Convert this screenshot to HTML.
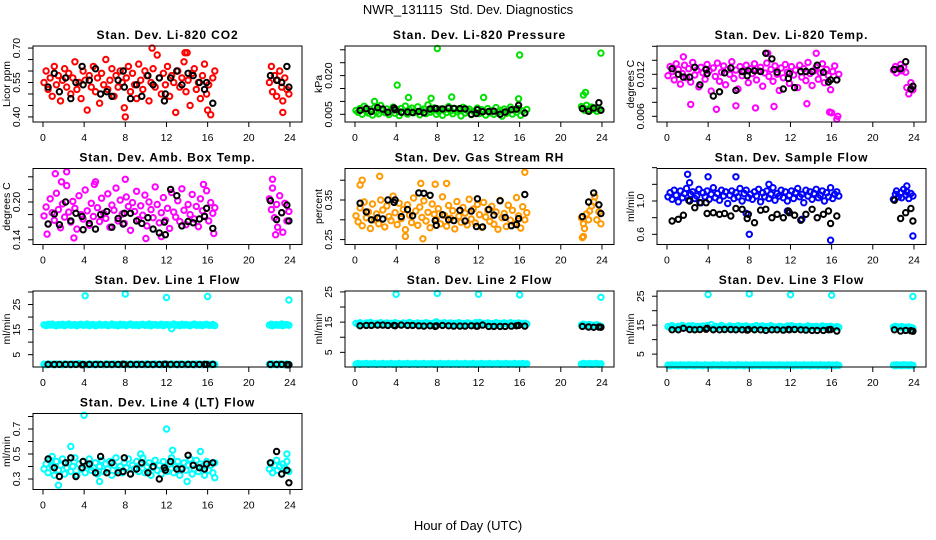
<!DOCTYPE html>
<html><head><meta charset="utf-8"><title>NWR_131115 Std. Dev. Diagnostics</title>
<style>
html,body{margin:0;padding:0;background:#fff;}
svg{display:block;font-family:"Liberation Sans",Arial,sans-serif;}
</style></head>
<body>
<svg id="chart" width="936" height="540" viewBox="0 0 936 540" xmlns="http://www.w3.org/2000/svg">
<rect x="0" y="0" width="936" height="540" fill="#fff"/>
<text x="468" y="14" font-size="13" text-anchor="middle" xml:space="preserve">NWR_131115  Std. Dev. Diagnostics</text>
<text x="468" y="530" font-size="13" text-anchor="middle">Hour of Day (UTC)</text>
</svg>
<script>
// ---- shared data ----
const hours = [0.1,0.3,0.5,0.7,0.9,1.1,1.3,1.5,1.7,1.9,2.1,2.3,2.5,2.7,2.9,3.1,3.3,3.5,3.7,3.9,4.1,4.3,4.5,4.7,4.9,5.1,5.3,5.5,5.7,5.9,
6.1,6.3,6.5,6.7,6.9,7.1,7.3,7.5,7.7,7.9,8.1,8.3,8.5,8.7,8.9,9.1,9.3,9.5,9.7,9.9,10.1,10.3,10.5,10.7,10.9,11.1,11.3,11.5,11.7,11.9,
12.1,12.3,12.5,12.7,12.9,13.1,13.3,13.5,13.7,13.9,14.1,14.3,14.5,14.7,14.9,15.1,15.3,15.5,15.7,15.9,16.1,16.3,16.5,16.7,
22.0,22.2,22.3,22.5,22.7,22.8,23.0,23.2,23.3,23.5,23.7,23.9];
const blackHours = [0.5,1.1,1.6,2.2,2.7,3.2,3.8,3.9,4.5,5.1,5.6,6.2,6.7,7.3,7.8,7.9,8.5,9.1,9.6,10.2,10.7,11.3,11.8,11.9,12.4,13.0,13.5,14.1,14.6,15.2,15.7,15.9,16.5,22.1,22.7,23.2,23.7,23.9];
const xTicks = [0,4,8,12,16,20,24];

// ---- CO2 ----
const co2Vals = [.55,.60,.52,.57,.49,.62,.54,.58,.47,.56,.61,.53,.59,.50,.57,.64,.52,.55,.48,.60,.56,.43,.58,.53,.62,.51,.57,.46,.59,.54,
.65,.52,.56,.61,.49,.58,.53,.60,.55,.44,.57,.62,.51,.59,.54,.48,.63,.56,.52,.60,.58,.47,.55,.61,.53,.67,.57,.50,.59,.54,
.62,.49,.58,.55,.42,.60,.53,.57,.64,.51,.56,.45,.59,.61,.52,.55,.48,.58,.63,.50,.54,.41,.57,.60,
.55,.62,.51,.58,.49,.56,.60,.53,.47,.57,.52,.50];
const co2OutX = [10.6,8.0,13.8,16.0,23.3,14.0];
const co2OutY = [.70,.40,.68,.43,.42,.68];
const co2Black = [.53,.59,.51,.57,.48,.55,.62,.54,.56,.61,.50,.51,.49,.56,.60,.53,.48,.54,.49,.58,.54,.57,.47,.50,.57,.60,.54,.59,.58,.55,.52,.55,.46,.58,.56,.55,.62,.53];

// ---- Pressure ----
const presVals = [.0065,.0058,.0072,.0050,.0081,.0062,.0055,.0069,.0047,.0076,.0060,.0052,.0084,.0066,.0057,.0071,.0049,.0063,.0078,.0054,.0068,.0045,.0073,.0059,.0082,.0051,.0067,.0074,.0056,.0061,
.0079,.0048,.0064,.0070,.0053,.0087,.0058,.0066,.0075,.0050,.0062,.0071,.0046,.0069,.0057,.0080,.0063,.0052,.0073,.0060,.0067,.0044,.0077,.0055,.0065,.0070,.0049,.0062,.0058,.0074,
.0053,.0068,.0061,.0047,.0072,.0056,.0064,.0050,.0076,.0059,.0066,.0043,.0070,.0054,.0062,.0078,.0051,.0067,.0058,.0073,.0046,.0063,.0055,.0069,
.0080,.0074,.0066,.0085,.0071,.0063,.0078,.0069,.0075,.0062,.0072,.0067];
const presOutX = [8.0,16.0,23.9,4.1,22.2,22.4,5.2,9.4,12.5,7.4,1.9,15.9];
const presOutY = [.0305,.0280,.0287,.0163,.0125,.0135,.0115,.0117,.0115,.0112,.0100,.0110];
const presBlack = [.0065,.0072,.0061,.0076,.0070,.0058,.0075,.0068,.0058,.0059,.0057,.0061,.0056,.0071,.0073,.0072,.0071,.0074,.0073,.0072,.0071,.0050,.0053,.0068,.0060,.0061,.0062,.0050,.0059,.0068,.0070,.0085,.0055,.0072,.0062,.0074,.0095,.0066];

// ---- Li-820 Temp ----
const tempVals = [.0118,.0131,.0124,.0112,.0135,.0127,.0106,.0121,.0133,.0115,.0128,.0109,.0137,.0119,.0126,.0102,.0130,.0122,.0113,.0134,.0125,.0096,.0129,.0117,.0136,.0110,.0123,.0132,.0105,.0127,
.0120,.0138,.0114,.0126,.0099,.0131,.0118,.0124,.0133,.0108,.0128,.0121,.0135,.0112,.0125,.0130,.0103,.0122,.0136,.0117,.0127,.0110,.0132,.0120,.0097,.0129,.0115,.0134,.0123,.0107,
.0131,.0119,.0126,.0101,.0133,.0116,.0128,.0111,.0137,.0121,.0104,.0125,.0130,.0113,.0122,.0135,.0108,.0127,.0118,.0098,.0124,.0132,.0112,.0120,
.0126,.0131,.0122,.0128,.0134,.0125,.0130,.0123,.0101,.0092,.0108,.0098];
const tempOutX = [16.5,16.6,16.0,15.8,8.6,4.8,6.7,2.3,13.6,10.4,14.5,9.8,1.6];
const tempOutY = [.0056,.0060,.0065,.0066,.0072,.0070,.0075,.0077,.0078,.0074,.0150,.0150,.0145];
const tempBlack = [.0128,.0120,.0116,.0116,.0130,.0105,.0127,.0121,.0089,.0095,.0122,.0129,.0097,.0124,.0118,.0125,.0125,.0124,.0150,.0142,.0123,.0099,.0114,.0121,.0101,.0124,.0124,.0124,.0133,.0123,.0109,.0112,.0112,.0127,.0128,.0138,.0099,.0103];

// ---- Amb Box Temp ----
const ambVals = [.178,.192,.165,.205,.183,.171,.214,.188,.159,.197,.176,.226,.184,.168,.201,.190,.157,.210,.180,.173,.219,.186,.163,.198,.177,.232,.191,.169,.206,.182,
.174,.213,.160,.195,.187,.222,.170,.203,.181,.166,.208,.193,.155,.199,.185,.217,.172,.194,.179,.211,.162,.200,.188,.175,.224,.196,.167,.183,.207,.171,
.190,.158,.215,.184,.176,.202,.169,.221,.187,.164,.196,.180,.212,.173,.193,.161,.205,.186,.178,.218,.170,.199,.182,.191,
.205,.188,.222,.175,.196,.160,.210,.183,.152,.198,.170,.185];
const ambOutX = [1.2,2.3,8.0,10.0,11.5,16.6,22.3,22.6,0.4,3.0,1.8,5.0,15.6];
const ambOutY = [.245,.248,.236,.142,.145,.150,.236,.148,.149,.143,.232,.228,.228];
const ambBlack = [.165,.181,.164,.200,.170,.182,.177,.156,.166,.157,.180,.185,.160,.174,.165,.182,.182,.170,.166,.175,.157,.151,.168,.148,.220,.210,.162,.169,.167,.173,.177,.190,.158,.202,.172,.183,.195,.170];

// ---- Gas Stream RH ----
const rhVals = [.310,.295,.330,.285,.345,.305,.320,.278,.340,.300,.315,.290,.350,.325,.282,.335,.308,.298,.360,.318,.288,.342,.303,.326,.275,.338,.312,.293,.355,.322,
.286,.332,.306,.348,.297,.319,.280,.340,.314,.301,.328,.290,.358,.311,.284,.336,.304,.323,.277,.346,.309,.294,.331,.317,.287,.352,.302,.327,.292,.339,
.313,.281,.344,.307,.325,.296,.334,.289,.320,.276,.349,.305,.316,.283,.337,.299,.324,.291,.356,.310,.279,.333,.300,.318,
.305,.290,.278,.315,.300,.322,.335,.345,.358,.300,.320,.290];
const rhOutX = [0.7,2.4,6.4,7.8,6.6,4.9,22.1,22.2,8.9,0.5,16.5];
const rhOutY = [.400,.410,.392,.390,.252,.258,.255,.258,.392,.388,.420];
const rhBlack = [.342,.320,.300,.305,.302,.350,.344,.350,.308,.326,.310,.368,.367,.362,.298,.286,.313,.300,.298,.324,.297,.322,.283,.353,.282,.326,.312,.348,.306,.285,.288,.303,.364,.308,.345,.368,.338,.316];

// ---- Sample Flow ----
const flowVals = [1.05,1.10,1.02,1.13,1.07,0.99,1.12,1.04,1.09,1.15,1.01,1.08,1.11,1.03,1.06,1.14,0.98,1.10,1.05,1.12,1.02,1.08,1.16,1.04,1.09,1.01,1.13,1.06,1.11,0.97,
1.07,1.12,1.03,1.10,1.05,1.15,1.00,1.09,1.13,1.04,1.08,1.02,1.11,1.06,1.14,0.99,1.10,1.05,1.12,1.03,1.08,1.16,1.01,1.09,1.06,1.13,1.04,1.11,1.00,1.07,
1.12,1.03,1.10,1.15,1.05,1.08,0.98,1.13,1.06,1.11,1.02,1.09,1.14,1.04,1.07,1.12,1.00,1.10,1.05,1.16,1.03,1.08,1.11,1.06,
1.02,1.08,1.12,1.05,1.10,1.04,1.14,1.07,1.11,1.03,1.09,1.06];
const flowOutX = [2.0,4.0,6.7,8.0,15.9,23.9,2.2,9.9,11.7,7.7,13.1,23.3];
const flowOutY = [1.32,1.29,1.29,0.60,0.53,0.58,1.22,1.20,0.88,0.85,0.78,1.18];
const flowBlack = [.76,.78,.83,1.00,.92,.98,.98,.85,.86,.84,.85,.82,.91,.90,.79,.84,.74,.89,.90,.80,.84,.80,.88,.86,.83,.77,.84,.90,.80,.84,.88,.73,.82,1.01,.79,.86,.91,.76];

// ---- Line 1 Flow ----
const l1Hi = [16.9,16.6,17.1,16.8,17.2,16.7,16.5,17.0,16.8,17.1,16.6,16.9,17.2,16.7,16.8,17.0,16.5,16.9,17.1,16.7,16.8,17.2,16.6,16.9,17.0,16.5,16.8,17.1,16.7,16.9,
17.0,16.6,16.8,17.2,16.7,16.9,16.5,17.1,16.8,17.0,16.6,16.9,17.2,16.7,16.8,17.0,16.6,16.9,17.1,16.7,16.8,17.2,16.5,16.9,17.0,16.7,16.8,17.1,16.6,16.9,
17.0,16.7,15.3,17.2,16.8,16.9,16.6,17.1,16.7,17.0,16.8,16.5,16.9,17.2,16.7,16.8,17.0,16.6,16.9,17.1,16.7,16.8,17.0,16.6,
16.8,17.1,16.5,16.9,17.0,16.7,16.8,17.2,16.6,16.9,17.0,16.7];
const l1Lo = [1.2,1.0,1.3,1.1,1.2,1.0,1.3,1.1,1.2,1.0,1.3,1.1,1.2,1.0,1.3,1.1,1.2,1.4,1.3,1.1,1.2,1.0,1.3,1.1,1.2,1.0,1.3,1.1,1.2,1.0,
1.3,1.1,1.2,1.0,1.3,1.1,1.2,1.0,1.3,1.1,1.2,1.0,1.3,1.1,1.2,1.0,1.3,1.1,1.2,1.0,1.3,1.1,1.2,1.0,1.3,1.1,1.2,1.0,1.3,1.1,
1.2,1.0,1.3,1.1,1.2,1.0,1.3,1.1,1.2,1.0,1.3,1.1,1.2,1.0,1.3,1.1,1.2,1.0,1.3,1.1,1.2,1.0,1.3,1.1,
1.2,1.0,1.3,1.1,1.2,1.0,1.3,1.1,1.2,1.0,1.3,1.1];
const l1OutX = [4.1,8.0,12.0,16.0,23.9];
const l1OutY = [28.5,29.2,27.8,28.2,26.8];
const l1Black = [1.1,1.1,1.1,1.1,1.1,1.1,1.0,1.1,1.1,1.1,1.1,1.1,1.1,1.1,1.2,1.1,1.1,1.1,1.1,1.1,1.1,1.1,1.1,1.2,1.1,1.1,1.1,1.1,1.1,1.1,1.1,1.1,1.1,1.1,1.1,1.1,1.0,1.0];

// ---- Line 2 Flow ----
const l2Hi = [14.6,14.2,14.8,14.4,14.1,14.7,14.3,14.9,14.5,14.2,14.6,14.4,14.8,14.1,14.5,14.7,14.3,14.6,14.2,14.8,14.4,14.5,14.1,14.7,14.3,14.6,14.9,14.2,14.5,14.4,
14.7,14.3,14.6,14.1,14.8,14.4,14.5,14.2,14.7,15.1,14.4,14.6,14.2,14.8,14.3,14.5,14.7,14.1,14.6,14.4,14.8,14.2,14.5,14.3,14.7,14.6,14.1,14.4,14.8,14.5,
14.9,14.2,14.6,14.4,14.7,14.3,14.5,14.1,14.8,14.4,14.6,14.2,14.7,14.5,14.3,14.8,14.4,14.6,14.1,14.7,14.5,14.3,14.6,14.4,
14.0,14.3,13.8,14.1,13.9,14.2,13.7,14.0,13.8,14.1,13.9,13.6];
const l2Lo = [1.1,1.3,1.0,1.2,1.1,1.3,1.0,1.2,1.1,1.3,1.0,1.2,1.1,1.3,1.0,1.2,1.1,1.3,1.0,1.2,1.1,1.3,1.0,1.2,1.1,1.3,1.0,1.2,1.1,1.3,
1.0,1.2,1.1,1.3,1.0,1.2,1.1,1.3,1.0,1.2,1.1,1.3,1.0,1.2,1.1,1.3,1.0,1.2,1.1,1.3,1.0,1.2,1.1,1.3,1.0,1.2,1.1,1.3,1.0,1.2,
1.1,1.3,1.0,1.2,1.1,1.3,1.0,1.2,1.1,1.3,1.0,1.2,1.1,1.3,1.0,1.2,1.1,1.3,1.0,1.2,1.1,1.3,1.0,1.2,
1.1,1.3,1.0,1.2,1.1,1.3,1.0,1.2,1.1,1.3,1.0,1.2];
const l2OutX = [4.0,8.0,12.0,16.0,23.9];
const l2OutY = [24.2,24.5,24.2,24.0,23.2];
const l2Black = [13.8,13.9,13.9,14.0,14.0,13.9,13.9,13.8,14.0,13.9,13.9,13.8,13.7,13.8,13.6,13.8,13.9,13.8,13.7,13.7,13.7,13.8,13.7,13.7,14.0,13.6,13.6,13.6,13.6,13.7,13.8,13.9,13.7,13.6,13.4,13.3,13.4,13.3];

// ---- Line 3 Flow ----
const l3Hi = [14.5,14.1,14.8,14.3,14.0,14.6,14.2,14.9,14.4,14.1,14.7,14.3,14.8,14.0,14.5,14.6,14.2,14.7,14.1,14.8,14.3,15.2,14.0,14.6,14.2,14.5,14.9,14.1,14.4,14.3,
14.7,14.2,14.5,14.0,14.8,14.3,14.6,14.1,14.7,14.4,14.3,14.5,14.1,14.8,14.2,14.6,14.7,14.0,14.5,14.3,14.8,14.1,14.4,14.2,14.6,14.5,14.0,14.3,14.7,14.4,
14.8,14.1,14.5,14.3,14.6,14.2,14.4,14.0,14.7,14.3,14.5,14.1,14.6,14.4,14.2,14.7,14.3,14.5,14.0,14.6,14.4,14.2,14.5,14.3,
14.3,14.6,14.1,14.4,14.2,14.5,14.0,14.3,14.1,14.4,14.2,14.0];
const l3Lo = [1.2,1.0,1.3,1.1,1.2,1.0,1.3,1.1,1.2,1.0,1.3,1.1,1.2,1.0,1.3,1.1,1.2,1.0,1.3,1.1,1.2,1.0,1.3,1.1,1.2,1.0,1.3,1.1,1.2,1.0,
1.3,1.1,1.2,1.0,1.3,1.1,1.2,1.0,1.3,1.1,1.2,1.0,1.3,1.1,1.2,1.0,1.3,1.1,1.2,1.0,1.3,1.1,1.2,1.0,1.3,1.1,1.2,1.0,1.3,1.1,
1.2,1.0,1.3,1.1,1.2,1.0,1.3,1.1,1.2,1.0,1.3,1.1,1.2,1.0,1.3,1.1,1.2,1.0,1.3,1.1,1.2,1.0,1.3,1.1,
1.2,1.0,1.3,1.1,1.2,1.0,1.3,1.1,1.2,1.0,1.3,1.1];
const l3OutX = [4.0,8.0,12.0,16.0,23.9];
const l3OutY = [25.6,25.8,25.5,25.3,24.9];
const l3Black = [13.4,13.4,13.9,13.5,13.4,13.5,13.6,13.9,13.4,13.4,13.5,13.5,13.4,13.4,13.3,13.5,13.4,13.4,13.2,13.4,13.4,13.3,13.5,13.4,13.5,13.4,13.3,13.2,13.2,13.2,13.4,13.5,13.0,13.4,13.0,13.2,13.1,12.9];

// ---- Line 4 Flow ----
const l4Vals = [.38,.42,.35,.45,.40,.33,.44,.37,.41,.46,.34,.39,.43,.36,.40,.47,.33,.42,.38,.44,.35,.41,.46,.37,.39,.43,.34,.40,.45,.36,
.42,.38,.44,.33,.41,.47,.37,.40,.35,.43,.39,.46,.34,.41,.38,.44,.36,.42,.47,.35,.40,.43,.33,.39,.45,.37,.41,.34,.44,.38,
.36,.42,.47,.35,.40,.44,.33,.39,.43,.37,.41,.46,.34,.38,.45,.36,.42,.40,.33,.44,.37,.41,.35,.43,
.38,.43,.35,.41,.45,.37,.40,.34,.42,.39,.44,.36];
const l4OutX = [4.0,12.0,2.7,12.6,15.3,1.5,14.0,5.5,0.9,23.7,9.5,16.7];
const l4OutY = [.81,.70,.56,.53,.52,.25,.28,.28,.48,.50,.50,.31];
const l4Black = [.46,.39,.32,.43,.47,.32,.39,.44,.42,.35,.48,.35,.43,.35,.36,.47,.34,.38,.43,.35,.40,.30,.39,.37,.44,.38,.38,.49,.41,.39,.38,.42,.43,.43,.52,.34,.37,.27];

// ---- tick arrays ----
const co2Ticks=[0.40,0.45,0.50,0.55,0.60,0.65,0.70], co2Labels=["0.40","","","0.55","","","0.70"];
const presTicks=[0.005,0.010,0.015,0.020,0.025,0.030], presLabels=["0.005","","","0.020","",""];
const tempTicks=[0.006,0.008,0.010,0.012,0.014,0.016], tempLabels=["0.006","","","0.012","",""];
const ambTicks=[0.14,0.16,0.18,0.20,0.22,0.24], ambLabels=["0.14","","","0.20","",""];
const rhTicks=[0.25,0.30,0.35,0.40], rhLabels=["0.25","","0.35",""];
const flowTicks=[0.6,0.8,1.0,1.2,1.4], flowLabels=["0.6","","1.0","",""];
const l1Ticks=[5,10,15,20,25,30], l1Labels=["5","","15","","25",""];
const l2Ticks=[5,10,15,20,25], l2Labels=["5","","15","","25"];
const l3Ticks=[5,10,15,20,25], l3Labels=["5","","15","","25"];
const l4Ticks=[0.3,0.4,0.5,0.6,0.7,0.8], l4Labels=["0.3","","0.5","","0.7",""];

const svg=document.getElementById('chart');
const NS='http://www.w3.org/2000/svg';
function mk(tag,attrs,parent){const e=document.createElementNS(NS,tag);for(const k in attrs)e.setAttribute(k,attrs[k]);(parent||svg).appendChild(e);return e;}

const X_DOMAIN=[-0.97,25.17];
function panel(col,row,title,slug,ylab,ydom,ticks,labels,series){
  const L=33+312*col, T=46+122.5*row, W=269, H=76;
  const g=mk('g',{});
  
  
  const xs=h=>L+(h-X_DOMAIN[0])/(X_DOMAIN[1]-X_DOMAIN[0])*W;
  const ys=v=>T+H-(v-ydom[0])/(ydom[1]-ydom[0])*H;
  const t=mk('text',{x:L+W/2,y:T-7,'font-size':12,'font-weight':'bold','letter-spacing':'0.9','text-anchor':'middle'},g);
  t.textContent=title;
  
  
  const marks=mk('g',{fill:'none','stroke-width':2},g);
  
  
  series.forEach(s=>{
    for(let i=0;i<s.y.length;i++){
      const c=mk('circle',{cx:xs(s.x[i]).toFixed(1),cy:ys(s.y[i]).toFixed(1),r:2.7,stroke:s.c},marks);
      
      
    }
  });
  const box=mk('rect',{x:L,y:T,width:W,height:H,fill:'none',stroke:'#000','stroke-width':1},g);
  
  
  const xa=mk('g',{},g);
  
  
  xTicks.forEach(v=>{
    const px=xs(v);
    mk('line',{x1:px,x2:px,y1:T+H,y2:T+H+5,stroke:'#000'},xa);
    const tl=mk('text',{x:px,y:T+H+19,'font-size':10.5,'text-anchor':'middle'},xa);
    tl.textContent=v;
    
    
  });
  const ya=mk('g',{},g);
  
  
  ticks.forEach((v,i)=>{
    const py=ys(v);
    mk('line',{x1:L-5,x2:L,y1:py,y2:py,stroke:'#000'},ya);
    if(labels[i]){
      const tl=mk('text',{x:0,y:0,'font-size':10.5,'text-anchor':'middle',transform:`translate(${L-13},${py}) rotate(-90)`},ya);
      tl.textContent=labels[i];
      
      
    }
  });
  const yl=mk('text',{x:0,y:0,'font-size':10.5,'text-anchor':'middle',transform:`translate(${L-23},${T+H/2}) rotate(-90)`},g);
  yl.textContent=ylab;
  
  
}
const K='#000';
panel(0,0,'Stan. Dev. Li-820 CO2','co2','Licor ppm',[0.378,0.709],co2Ticks,co2Labels,
 [{x:hours,y:co2Vals,c:'#f00'},{x:co2OutX,y:co2OutY,c:'#f00'},{x:blackHours,y:co2Black,c:K}]);
panel(1,0,'Stan. Dev. Li-820 Pressure','pressure','kPa',[0.00202,0.03147],presTicks,presLabels,
 [{x:hours,y:presVals,c:'#00e000'},{x:presOutX,y:presOutY,c:'#00e000'},{x:blackHours,y:presBlack,c:K}]);
panel(2,0,'Stan. Dev. Li-820 Temp.','li820-temp','degrees C',[0.00519,0.01604],tempTicks,tempLabels,
 [{x:hours,y:tempVals,c:'#f0f'},{x:tempOutX,y:tempOutY,c:'#f0f'},{x:blackHours,y:tempBlack,c:K}]);
panel(0,1,'Stan. Dev. Amb. Box Temp.','amb-box-temp','degrees C',[0.1325,0.2532],ambTicks,ambLabels,
 [{x:hours,y:ambVals,c:'#f0f'},{x:ambOutX,y:ambOutY,c:'#f0f'},{x:blackHours,y:ambBlack,c:K}]);
panel(1,1,'Stan. Dev. Gas Stream RH','gas-stream-rh','percent',[0.2376,0.4296],rhTicks,rhLabels,
 [{x:hours,y:rhVals,c:'#f90'},{x:rhOutX,y:rhOutY,c:'#f90'},{x:blackHours,y:rhBlack,c:K}]);
panel(2,1,'Stan. Dev. Sample Flow','sample-flow','ml/min',[0.478,1.39],flowTicks,flowLabels,
 [{x:hours,y:flowVals,c:'#00f'},{x:flowOutX,y:flowOutY,c:'#00f'},{x:blackHours,y:flowBlack,c:K}]);
panel(0,2,'Stan. Dev. Line 1 Flow','line1-flow','ml/min',[0.08,30.4],l1Ticks,l1Labels,
 [{x:hours,y:l1Hi,c:'#0ff'},{x:hours,y:l1Lo,c:'#0ff'},{x:l1OutX,y:l1OutY,c:'#0ff'},{x:blackHours,y:l1Black,c:K}]);
panel(1,2,'Stan. Dev. Line 2 Flow','line2-flow','ml/min',[0.15,25.3],l2Ticks,l2Labels,
 [{x:hours,y:l2Hi,c:'#0ff'},{x:hours,y:l2Lo,c:'#0ff'},{x:l2OutX,y:l2OutY,c:'#0ff'},{x:blackHours,y:l2Black,c:K}]);
panel(2,2,'Stan. Dev. Line 3 Flow','line3-flow','ml/min',[0.55,26.8],l3Ticks,l3Labels,
 [{x:hours,y:l3Hi,c:'#0ff'},{x:hours,y:l3Lo,c:'#0ff'},{x:l3OutX,y:l3OutY,c:'#0ff'},{x:blackHours,y:l3Black,c:K}]);
panel(0,3,'Stan. Dev. Line 4 (LT) Flow','line4-flow','ml/min',[0.216,0.824],l4Ticks,l4Labels,
 [{x:hours,y:l4Vals,c:'#0ff'},{x:l4OutX,y:l4OutY,c:'#0ff'},{x:blackHours,y:l4Black,c:K}]);
</script>
</body></html>
